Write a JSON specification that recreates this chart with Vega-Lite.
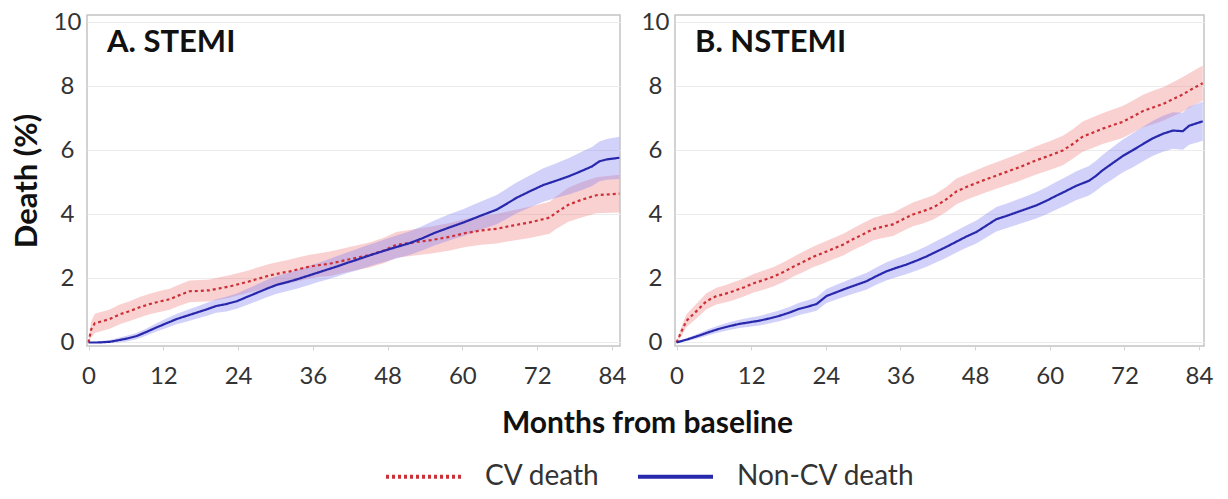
{
  "$schema": "https://vega.github.io/schema/vega-lite/v6.json",
  "background": "white",
  "padding": {"left": 10, "top": 9, "right": 10, "bottom": 4},
  "bounds": "flush",
  "spacing": 55,
  "config": {
    "font": "Lato",
    "view": {"stroke": "#c4c4c4", "strokeWidth": 1.5},
    "axisX": {
      "grid": false,
      "domain": false,
      "ticks": true,
      "tickColor": "#d4d4d4",
      "tickSize": 4,
      "labelFontSize": 24,
      "labelColor": "#333333",
      "labelPadding": 14
    },
    "axisY": {
      "grid": true,
      "gridColor": "#ececec",
      "domain": false,
      "ticks": false,
      "labelFontSize": 24,
      "labelColor": "#333333",
      "labelAlign": "center",
      "labelPadding": 20
    },
    "legend": {
      "direction": "horizontal",
      "labelFontSize": 28,
      "labelColor": "#333333",
      "labelLimit": 400,
      "symbolType": "stroke",
      "symbolSize": 5625,
      "symbolStrokeWidth": 4,
      "labelOffset": 22,
      "columnPadding": 30
    }
  },
  "datasets": {
    "stemi": [
      {"series": "CV death", "month": 0, "est": 0, "lower": 0, "upper": 0},
      {"series": "CV death", "month": 0.4, "est": 0.4, "lower": 0.15, "upper": 0.65},
      {"series": "CV death", "month": 1, "est": 0.6, "lower": 0.3, "upper": 0.9},
      {"series": "CV death", "month": 3.4, "est": 0.73, "lower": 0.43, "upper": 1.03},
      {"series": "CV death", "month": 5, "est": 0.88, "lower": 0.57, "upper": 1.19},
      {"series": "CV death", "month": 6.6, "est": 0.98, "lower": 0.67, "upper": 1.29},
      {"series": "CV death", "month": 8.2, "est": 1.1, "lower": 0.78, "upper": 1.42},
      {"series": "CV death", "month": 9.8, "est": 1.2, "lower": 0.88, "upper": 1.52},
      {"series": "CV death", "month": 11.4, "est": 1.28, "lower": 0.95, "upper": 1.61},
      {"series": "CV death", "month": 13, "est": 1.35, "lower": 1.02, "upper": 1.68},
      {"series": "CV death", "month": 14.6, "est": 1.48, "lower": 1.15, "upper": 1.81},
      {"series": "CV death", "month": 16.2, "est": 1.6, "lower": 1.26, "upper": 1.94},
      {"series": "CV death", "month": 17.8, "est": 1.61, "lower": 1.27, "upper": 1.95},
      {"series": "CV death", "month": 19.4, "est": 1.63, "lower": 1.29, "upper": 1.97},
      {"series": "CV death", "month": 21, "est": 1.69, "lower": 1.34, "upper": 2.04},
      {"series": "CV death", "month": 22.6, "est": 1.75, "lower": 1.4, "upper": 2.1},
      {"series": "CV death", "month": 24.2, "est": 1.83, "lower": 1.48, "upper": 2.18},
      {"series": "CV death", "month": 25.8, "est": 1.91, "lower": 1.56, "upper": 2.26},
      {"series": "CV death", "month": 27.4, "est": 2.0, "lower": 1.64, "upper": 2.36},
      {"series": "CV death", "month": 29, "est": 2.09, "lower": 1.73, "upper": 2.45},
      {"series": "CV death", "month": 30.6, "est": 2.16, "lower": 1.8, "upper": 2.52},
      {"series": "CV death", "month": 32.3, "est": 2.22, "lower": 1.85, "upper": 2.59},
      {"series": "CV death", "month": 33.9, "est": 2.3, "lower": 1.93, "upper": 2.67},
      {"series": "CV death", "month": 35.5, "est": 2.37, "lower": 2.0, "upper": 2.74},
      {"series": "CV death", "month": 37.1, "est": 2.42, "lower": 2.05, "upper": 2.79},
      {"series": "CV death", "month": 38.7, "est": 2.46, "lower": 2.08, "upper": 2.84},
      {"series": "CV death", "month": 41.9, "est": 2.6, "lower": 2.22, "upper": 2.98},
      {"series": "CV death", "month": 45.1, "est": 2.73, "lower": 2.34, "upper": 3.12},
      {"series": "CV death", "month": 47.5, "est": 2.88, "lower": 2.48, "upper": 3.28},
      {"series": "CV death", "month": 49.4, "est": 3.05, "lower": 2.65, "upper": 3.45},
      {"series": "CV death", "month": 52, "est": 3.12, "lower": 2.71, "upper": 3.53},
      {"series": "CV death", "month": 55, "est": 3.2, "lower": 2.78, "upper": 3.62},
      {"series": "CV death", "month": 58, "est": 3.3, "lower": 2.87, "upper": 3.73},
      {"series": "CV death", "month": 60.5, "est": 3.42, "lower": 2.98, "upper": 3.86},
      {"series": "CV death", "month": 63, "est": 3.5, "lower": 3.05, "upper": 3.95},
      {"series": "CV death", "month": 65.5, "est": 3.55, "lower": 3.09, "upper": 4.01},
      {"series": "CV death", "month": 68, "est": 3.65, "lower": 3.18, "upper": 4.12},
      {"series": "CV death", "month": 70.8, "est": 3.75, "lower": 3.26, "upper": 4.24},
      {"series": "CV death", "month": 74, "est": 3.9, "lower": 3.4, "upper": 4.4},
      {"series": "CV death", "month": 75.1, "est": 4.06, "lower": 3.55, "upper": 4.57},
      {"series": "CV death", "month": 77, "est": 4.3, "lower": 3.77, "upper": 4.83},
      {"series": "CV death", "month": 79, "est": 4.45, "lower": 3.9, "upper": 5.0},
      {"series": "CV death", "month": 81.5, "est": 4.6, "lower": 4.04, "upper": 5.16},
      {"series": "CV death", "month": 85.2, "est": 4.65, "lower": 4.06, "upper": 5.24},
      {"series": "Non-CV death", "month": 0, "est": 0, "lower": 0, "upper": 0},
      {"series": "Non-CV death", "month": 1.5, "est": 0, "lower": 0, "upper": 0.04},
      {"series": "Non-CV death", "month": 3.4, "est": 0.02, "lower": 0, "upper": 0.08},
      {"series": "Non-CV death", "month": 4.5, "est": 0.06, "lower": 0, "upper": 0.13},
      {"series": "Non-CV death", "month": 6.1, "est": 0.12, "lower": 0.03, "upper": 0.21},
      {"series": "Non-CV death", "month": 7.7, "est": 0.2, "lower": 0.1, "upper": 0.3},
      {"series": "Non-CV death", "month": 9.3, "est": 0.33, "lower": 0.22, "upper": 0.44},
      {"series": "Non-CV death", "month": 10.9, "est": 0.47, "lower": 0.34, "upper": 0.6},
      {"series": "Non-CV death", "month": 12.5, "est": 0.6, "lower": 0.45, "upper": 0.75},
      {"series": "Non-CV death", "month": 14.1, "est": 0.73, "lower": 0.57, "upper": 0.89},
      {"series": "Non-CV death", "month": 15.7, "est": 0.83, "lower": 0.65, "upper": 1.01},
      {"series": "Non-CV death", "month": 17.3, "est": 0.93, "lower": 0.74, "upper": 1.12},
      {"series": "Non-CV death", "month": 18.9, "est": 1.03, "lower": 0.83, "upper": 1.23},
      {"series": "Non-CV death", "month": 20.5, "est": 1.14, "lower": 0.93, "upper": 1.35},
      {"series": "Non-CV death", "month": 22.1, "est": 1.2, "lower": 0.97, "upper": 1.43},
      {"series": "Non-CV death", "month": 23.8, "est": 1.29, "lower": 1.05, "upper": 1.53},
      {"series": "Non-CV death", "month": 25.4, "est": 1.42, "lower": 1.17, "upper": 1.67},
      {"series": "Non-CV death", "month": 27, "est": 1.55, "lower": 1.29, "upper": 1.81},
      {"series": "Non-CV death", "month": 28.6, "est": 1.68, "lower": 1.41, "upper": 1.95},
      {"series": "Non-CV death", "month": 30.2, "est": 1.8, "lower": 1.52, "upper": 2.08},
      {"series": "Non-CV death", "month": 31.8, "est": 1.88, "lower": 1.6, "upper": 2.16},
      {"series": "Non-CV death", "month": 33.4, "est": 1.97, "lower": 1.68, "upper": 2.26},
      {"series": "Non-CV death", "month": 35, "est": 2.07, "lower": 1.77, "upper": 2.37},
      {"series": "Non-CV death", "month": 36.6, "est": 2.17, "lower": 1.87, "upper": 2.47},
      {"series": "Non-CV death", "month": 38.2, "est": 2.27, "lower": 1.96, "upper": 2.58},
      {"series": "Non-CV death", "month": 39.8, "est": 2.37, "lower": 2.05, "upper": 2.69},
      {"series": "Non-CV death", "month": 41.4, "est": 2.48, "lower": 2.16, "upper": 2.8},
      {"series": "Non-CV death", "month": 43, "est": 2.58, "lower": 2.25, "upper": 2.91},
      {"series": "Non-CV death", "month": 44.5, "est": 2.68, "lower": 2.34, "upper": 3.02},
      {"series": "Non-CV death", "month": 45.9, "est": 2.77, "lower": 2.43, "upper": 3.11},
      {"series": "Non-CV death", "month": 47.7, "est": 2.88, "lower": 2.53, "upper": 3.23},
      {"series": "Non-CV death", "month": 49.4, "est": 2.98, "lower": 2.62, "upper": 3.34},
      {"series": "Non-CV death", "month": 51.5, "est": 3.1, "lower": 2.73, "upper": 3.47},
      {"series": "Non-CV death", "month": 53.5, "est": 3.25, "lower": 2.87, "upper": 3.63},
      {"series": "Non-CV death", "month": 55.5, "est": 3.42, "lower": 3.03, "upper": 3.81},
      {"series": "Non-CV death", "month": 58, "est": 3.6, "lower": 3.19, "upper": 4.01},
      {"series": "Non-CV death", "month": 60.2, "est": 3.75, "lower": 3.33, "upper": 4.17},
      {"series": "Non-CV death", "month": 62.8, "est": 3.95, "lower": 3.51, "upper": 4.39},
      {"series": "Non-CV death", "month": 65.5, "est": 4.15, "lower": 3.69, "upper": 4.61},
      {"series": "Non-CV death", "month": 67, "est": 4.32, "lower": 3.85, "upper": 4.79},
      {"series": "Non-CV death", "month": 68.7, "est": 4.52, "lower": 4.04, "upper": 5.0},
      {"series": "Non-CV death", "month": 70.8, "est": 4.72, "lower": 4.22, "upper": 5.22},
      {"series": "Non-CV death", "month": 73, "est": 4.92, "lower": 4.4, "upper": 5.44},
      {"series": "Non-CV death", "month": 75, "est": 5.05, "lower": 4.51, "upper": 5.59},
      {"series": "Non-CV death", "month": 77.2, "est": 5.2, "lower": 4.63, "upper": 5.77},
      {"series": "Non-CV death", "month": 79.4, "est": 5.38, "lower": 4.78, "upper": 5.98},
      {"series": "Non-CV death", "month": 80.8, "est": 5.5, "lower": 4.89, "upper": 6.11},
      {"series": "Non-CV death", "month": 82, "est": 5.66, "lower": 5.04, "upper": 6.28},
      {"series": "Non-CV death", "month": 83.2, "est": 5.72, "lower": 5.08, "upper": 6.36},
      {"series": "Non-CV death", "month": 85.2, "est": 5.77, "lower": 5.11, "upper": 6.43}
    ],
    "nstemi": [
      {"series": "CV death", "month": 0, "est": 0, "lower": 0, "upper": 0},
      {"series": "CV death", "month": 0.8, "est": 0.35, "lower": 0.2, "upper": 0.5},
      {"series": "CV death", "month": 1.6, "est": 0.68, "lower": 0.48, "upper": 0.88},
      {"series": "CV death", "month": 3.2, "est": 0.98, "lower": 0.75, "upper": 1.21},
      {"series": "CV death", "month": 4.8, "est": 1.29, "lower": 1.04, "upper": 1.54},
      {"series": "CV death", "month": 6.4, "est": 1.45, "lower": 1.19, "upper": 1.71},
      {"series": "CV death", "month": 7.8, "est": 1.52, "lower": 1.25, "upper": 1.79},
      {"series": "CV death", "month": 9.1, "est": 1.6, "lower": 1.32, "upper": 1.88},
      {"series": "CV death", "month": 10.8, "est": 1.72, "lower": 1.44, "upper": 2.0},
      {"series": "CV death", "month": 12.4, "est": 1.85, "lower": 1.56, "upper": 2.14},
      {"series": "CV death", "month": 14, "est": 1.95, "lower": 1.65, "upper": 2.25},
      {"series": "CV death", "month": 15.6, "est": 2.06, "lower": 1.76, "upper": 2.36},
      {"series": "CV death", "month": 17.2, "est": 2.2, "lower": 1.89, "upper": 2.51},
      {"series": "CV death", "month": 18.8, "est": 2.37, "lower": 2.06, "upper": 2.68},
      {"series": "CV death", "month": 20.4, "est": 2.52, "lower": 2.2, "upper": 2.84},
      {"series": "CV death", "month": 22, "est": 2.68, "lower": 2.36, "upper": 3.0},
      {"series": "CV death", "month": 23.6, "est": 2.8, "lower": 2.47, "upper": 3.13},
      {"series": "CV death", "month": 25.2, "est": 2.93, "lower": 2.6, "upper": 3.26},
      {"series": "CV death", "month": 26.8, "est": 3.06, "lower": 2.72, "upper": 3.4},
      {"series": "CV death", "month": 28.4, "est": 3.23, "lower": 2.89, "upper": 3.57},
      {"series": "CV death", "month": 30, "est": 3.38, "lower": 3.03, "upper": 3.73},
      {"series": "CV death", "month": 31.6, "est": 3.54, "lower": 3.19, "upper": 3.89},
      {"series": "CV death", "month": 33.2, "est": 3.62, "lower": 3.26, "upper": 3.98},
      {"series": "CV death", "month": 34.8, "est": 3.69, "lower": 3.33, "upper": 4.05},
      {"series": "CV death", "month": 36.4, "est": 3.85, "lower": 3.48, "upper": 4.22},
      {"series": "CV death", "month": 38, "est": 4.0, "lower": 3.63, "upper": 4.37},
      {"series": "CV death", "month": 39.6, "est": 4.1, "lower": 3.72, "upper": 4.48},
      {"series": "CV death", "month": 41.3, "est": 4.22, "lower": 3.84, "upper": 4.6},
      {"series": "CV death", "month": 43.3, "est": 4.46, "lower": 4.07, "upper": 4.85},
      {"series": "CV death", "month": 45, "est": 4.72, "lower": 4.32, "upper": 5.12},
      {"series": "CV death", "month": 47, "est": 4.89, "lower": 4.49, "upper": 5.29},
      {"series": "CV death", "month": 49.8, "est": 5.1, "lower": 4.69, "upper": 5.51},
      {"series": "CV death", "month": 52.5, "est": 5.29, "lower": 4.87, "upper": 5.71},
      {"series": "CV death", "month": 55.2, "est": 5.48, "lower": 5.05, "upper": 5.91},
      {"series": "CV death", "month": 57.8, "est": 5.69, "lower": 5.25, "upper": 6.13},
      {"series": "CV death", "month": 60, "est": 5.84, "lower": 5.39, "upper": 6.29},
      {"series": "CV death", "month": 62.1, "est": 6.0, "lower": 5.54, "upper": 6.46},
      {"series": "CV death", "month": 63.7, "est": 6.2, "lower": 5.74, "upper": 6.66},
      {"series": "CV death", "month": 65.3, "est": 6.43, "lower": 5.96, "upper": 6.9},
      {"series": "CV death", "month": 67, "est": 6.56, "lower": 6.08, "upper": 7.04},
      {"series": "CV death", "month": 68.5, "est": 6.68, "lower": 6.2, "upper": 7.16},
      {"series": "CV death", "month": 70, "est": 6.78, "lower": 6.29, "upper": 7.27},
      {"series": "CV death", "month": 71.7, "est": 6.89, "lower": 6.39, "upper": 7.39},
      {"series": "CV death", "month": 73.3, "est": 7.05, "lower": 6.55, "upper": 7.55},
      {"series": "CV death", "month": 75, "est": 7.23, "lower": 6.72, "upper": 7.74},
      {"series": "CV death", "month": 76.6, "est": 7.34, "lower": 6.82, "upper": 7.86},
      {"series": "CV death", "month": 78.2, "est": 7.45, "lower": 6.93, "upper": 7.97},
      {"series": "CV death", "month": 79.8, "est": 7.6, "lower": 7.07, "upper": 8.13},
      {"series": "CV death", "month": 81.4, "est": 7.75, "lower": 7.21, "upper": 8.29},
      {"series": "CV death", "month": 82.7, "est": 7.9, "lower": 7.36, "upper": 8.44},
      {"series": "CV death", "month": 84.6, "est": 8.1, "lower": 7.55, "upper": 8.65},
      {"series": "Non-CV death", "month": 0, "est": 0, "lower": 0, "upper": 0.01},
      {"series": "Non-CV death", "month": 1.8, "est": 0.1, "lower": 0.05, "upper": 0.15},
      {"series": "Non-CV death", "month": 3.7, "est": 0.22, "lower": 0.14, "upper": 0.3},
      {"series": "Non-CV death", "month": 5.3, "est": 0.33, "lower": 0.23, "upper": 0.43},
      {"series": "Non-CV death", "month": 6.9, "est": 0.43, "lower": 0.32, "upper": 0.54},
      {"series": "Non-CV death", "month": 8.5, "est": 0.51, "lower": 0.39, "upper": 0.63},
      {"series": "Non-CV death", "month": 10.1, "est": 0.58, "lower": 0.45, "upper": 0.71},
      {"series": "Non-CV death", "month": 11.7, "est": 0.63, "lower": 0.49, "upper": 0.77},
      {"series": "Non-CV death", "month": 13.3, "est": 0.68, "lower": 0.53, "upper": 0.83},
      {"series": "Non-CV death", "month": 14.9, "est": 0.75, "lower": 0.59, "upper": 0.91},
      {"series": "Non-CV death", "month": 16.5, "est": 0.83, "lower": 0.66, "upper": 1.0},
      {"series": "Non-CV death", "month": 18.1, "est": 0.93, "lower": 0.75, "upper": 1.11},
      {"series": "Non-CV death", "month": 19.7, "est": 1.05, "lower": 0.86, "upper": 1.24},
      {"series": "Non-CV death", "month": 21.1, "est": 1.12, "lower": 0.92, "upper": 1.32},
      {"series": "Non-CV death", "month": 22.5, "est": 1.2, "lower": 0.99, "upper": 1.41},
      {"series": "Non-CV death", "month": 24.1, "est": 1.45, "lower": 1.23, "upper": 1.67},
      {"series": "Non-CV death", "month": 25.7, "est": 1.57, "lower": 1.34, "upper": 1.8},
      {"series": "Non-CV death", "month": 27.3, "est": 1.69, "lower": 1.45, "upper": 1.93},
      {"series": "Non-CV death", "month": 28.9, "est": 1.8, "lower": 1.55, "upper": 2.05},
      {"series": "Non-CV death", "month": 30.5, "est": 1.91, "lower": 1.65, "upper": 2.17},
      {"series": "Non-CV death", "month": 32.1, "est": 2.07, "lower": 1.8, "upper": 2.34},
      {"series": "Non-CV death", "month": 33.7, "est": 2.22, "lower": 1.94, "upper": 2.5},
      {"series": "Non-CV death", "month": 35.3, "est": 2.33, "lower": 2.04, "upper": 2.62},
      {"series": "Non-CV death", "month": 36.9, "est": 2.43, "lower": 2.13, "upper": 2.73},
      {"series": "Non-CV death", "month": 38.5, "est": 2.55, "lower": 2.24, "upper": 2.86},
      {"series": "Non-CV death", "month": 40.1, "est": 2.68, "lower": 2.36, "upper": 3.0},
      {"series": "Non-CV death", "month": 41.7, "est": 2.83, "lower": 2.5, "upper": 3.16},
      {"series": "Non-CV death", "month": 43.3, "est": 2.98, "lower": 2.64, "upper": 3.32},
      {"series": "Non-CV death", "month": 44.9, "est": 3.14, "lower": 2.8, "upper": 3.48},
      {"series": "Non-CV death", "month": 46.5, "est": 3.3, "lower": 2.95, "upper": 3.65},
      {"series": "Non-CV death", "month": 48.2, "est": 3.45, "lower": 3.09, "upper": 3.81},
      {"series": "Non-CV death", "month": 49.8, "est": 3.65, "lower": 3.28, "upper": 4.02},
      {"series": "Non-CV death", "month": 51.4, "est": 3.85, "lower": 3.47, "upper": 4.23},
      {"series": "Non-CV death", "month": 53, "est": 3.95, "lower": 3.57, "upper": 4.33},
      {"series": "Non-CV death", "month": 54.6, "est": 4.06, "lower": 3.67, "upper": 4.45},
      {"series": "Non-CV death", "month": 56.2, "est": 4.17, "lower": 3.77, "upper": 4.57},
      {"series": "Non-CV death", "month": 57.8, "est": 4.28, "lower": 3.87, "upper": 4.69},
      {"series": "Non-CV death", "month": 59.4, "est": 4.42, "lower": 4.0, "upper": 4.84},
      {"series": "Non-CV death", "month": 61, "est": 4.58, "lower": 4.15, "upper": 5.01},
      {"series": "Non-CV death", "month": 62.6, "est": 4.73, "lower": 4.29, "upper": 5.17},
      {"series": "Non-CV death", "month": 64.2, "est": 4.89, "lower": 4.44, "upper": 5.34},
      {"series": "Non-CV death", "month": 66.3, "est": 5.05, "lower": 4.59, "upper": 5.51},
      {"series": "Non-CV death", "month": 67.4, "est": 5.2, "lower": 4.73, "upper": 5.67},
      {"series": "Non-CV death", "month": 68.5, "est": 5.38, "lower": 4.9, "upper": 5.86},
      {"series": "Non-CV death", "month": 70.1, "est": 5.6, "lower": 5.1, "upper": 6.1},
      {"series": "Non-CV death", "month": 71.7, "est": 5.82, "lower": 5.31, "upper": 6.33},
      {"series": "Non-CV death", "month": 73.3, "est": 6.0, "lower": 5.47, "upper": 6.53},
      {"series": "Non-CV death", "month": 75, "est": 6.2, "lower": 5.66, "upper": 6.74},
      {"series": "Non-CV death", "month": 76.6, "est": 6.38, "lower": 5.83, "upper": 6.93},
      {"series": "Non-CV death", "month": 78.2, "est": 6.52, "lower": 5.96, "upper": 7.08},
      {"series": "Non-CV death", "month": 79.8, "est": 6.62, "lower": 6.05, "upper": 7.19},
      {"series": "Non-CV death", "month": 81.4, "est": 6.6, "lower": 6.02, "upper": 7.18},
      {"series": "Non-CV death", "month": 82.4, "est": 6.77, "lower": 6.18, "upper": 7.36},
      {"series": "Non-CV death", "month": 84.6, "est": 6.91, "lower": 6.3, "upper": 7.52}
    ]
  },
  "hconcat": [
    {
      "width": 533,
      "height": 331,
      "data": {"name": "stemi"},
      "title": {"text": "A. STEMI", "anchor": "start", "frame": "group", "orient": "top", "offset": -73, "dx": 20, "baseline": "alphabetic", "fontSize": 31, "fontWeight": "bold", "color": "#111111"},
      "layer": [
        {
          "mark": {"type": "area", "opacity": 0.35},
          "encoding": {
            "x": {"field": "month", "type": "quantitative", "scale": {"domain": [-0.25, 85.3], "nice": false, "zero": false}, "axis": {"values": [0, 12, 24, 36, 48, 60, 72, 84], "title": "Months from baseline", "titleX": 560, "titlePadding": 20, "titleFontSize": 30, "titleFontWeight": "bold", "titleColor": "#111111"}},
            "y": {"field": "lower", "type": "quantitative", "scale": {"domain": [-0.11, 10.23], "nice": false, "zero": false}, "axis": {"values": [0, 2, 4, 6, 8, 10], "title": "Death (%)", "titleFontSize": 31, "titleFontWeight": "bold", "titleColor": "#111111", "titlePadding": 10}},
            "y2": {"field": "upper"},
            "fill": {"field": "series", "type": "nominal", "scale": {"domain": ["Non-CV death", "CV death"], "range": ["#7a7af0", "#f07a7a"]}, "legend": null}
          }
        },
        {
          "mark": {"type": "line", "strokeWidth": 2.2},
          "encoding": {
            "x": {"field": "month", "type": "quantitative"},
            "y": {"field": "est", "type": "quantitative"},
            "color": {"field": "series", "type": "nominal", "scale": {"domain": ["CV death", "Non-CV death"], "range": ["#cc2f36", "#2828ac"]}, "legend": {"title": null, "orient": "none", "legendX": 297, "legendY": 422, "labelLimit": 400}},
            "strokeDash": {"field": "series", "type": "nominal", "scale": {"domain": ["CV death", "Non-CV death"], "range": [[3, 3], [1, 0]]}, "legend": {"title": null, "orient": "none", "legendX": 297, "legendY": 422, "labelLimit": 400}}
          }
        }
      ]
    },
    {
      "width": 529,
      "height": 331,
      "data": {"name": "nstemi"},
      "title": {"text": "B. NSTEMI", "anchor": "start", "frame": "group", "orient": "top", "offset": -73, "dx": 20, "baseline": "alphabetic", "fontSize": 31, "fontWeight": "bold", "color": "#111111"},
      "layer": [
        {
          "mark": {"type": "area", "opacity": 0.35},
          "encoding": {
            "x": {"field": "month", "type": "quantitative", "scale": {"domain": [-0.25, 84.8], "nice": false, "zero": false}, "axis": {"values": [0, 12, 24, 36, 48, 60, 72, 84], "title": null}},
            "y": {"field": "lower", "type": "quantitative", "scale": {"domain": [-0.11, 10.23], "nice": false, "zero": false}, "axis": {"values": [0, 2, 4, 6, 8, 10], "title": null}},
            "y2": {"field": "upper"},
            "fill": {"field": "series", "type": "nominal", "scale": {"domain": ["Non-CV death", "CV death"], "range": ["#7a7af0", "#f07a7a"]}, "legend": null}
          }
        },
        {
          "mark": {"type": "line", "strokeWidth": 2.2},
          "encoding": {
            "x": {"field": "month", "type": "quantitative"},
            "y": {"field": "est", "type": "quantitative"},
            "color": {"field": "series", "type": "nominal", "scale": {"domain": ["CV death", "Non-CV death"], "range": ["#cc2f36", "#2828ac"]}},
            "strokeDash": {"field": "series", "type": "nominal", "scale": {"domain": ["CV death", "Non-CV death"], "range": [[3, 3], [1, 0]]}}
          }
        }
      ]
    }
  ],
  "resolve": {
    "scale": {"color": "shared", "strokeDash": "shared", "fill": "shared"},
    "legend": {"color": "shared", "strokeDash": "shared"}
  }
}
